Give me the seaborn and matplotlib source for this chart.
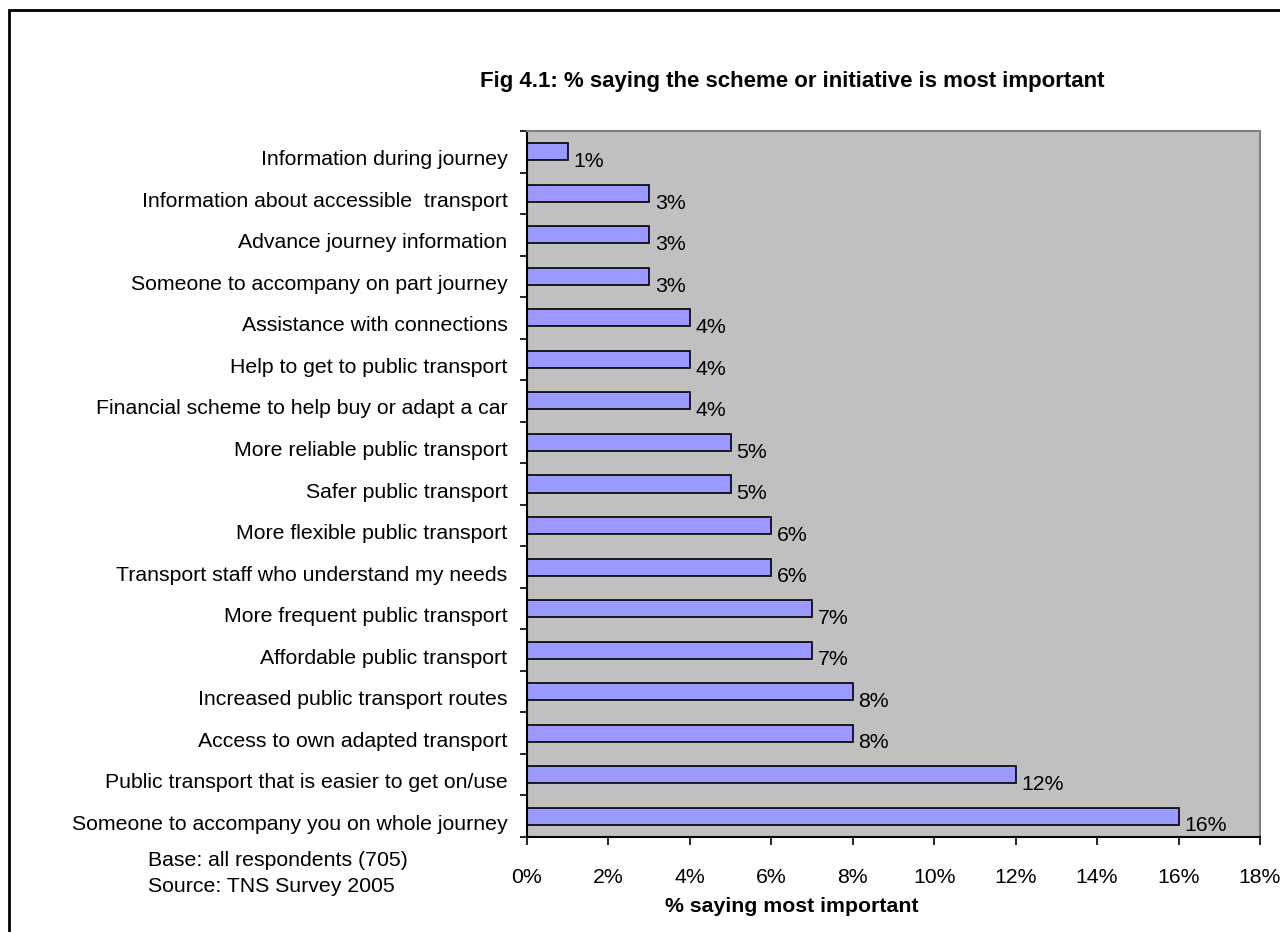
import matplotlib
matplotlib.use("Agg")
import matplotlib.pyplot as plt
import matplotlib.transforms as mtransforms
import seaborn as sns
import pandas as pd
from matplotlib.patches import Rectangle
from matplotlib.ticker import FixedLocator

categories = [
    "Information during journey",
    "Information about accessible  transport",
    "Advance journey information",
    "Someone to accompany on part journey",
    "Assistance with connections",
    "Help to get to public transport",
    "Financial scheme to help buy or adapt a car",
    "More reliable public transport",
    "Safer public transport",
    "More flexible public transport",
    "Transport staff who understand my needs",
    "More frequent public transport",
    "Affordable public transport",
    "Increased public transport routes",
    "Access to own adapted transport",
    "Public transport that is easier to get on/use",
    "Someone to accompany you on whole journey",
]
values = [1, 3, 3, 3, 4, 4, 4, 5, 5, 6, 6, 7, 7, 8, 8, 12, 16]
x_ticks = [0, 2, 4, 6, 8, 10, 12, 14, 16, 18]
x_tick_labels = ["0%", "2%", "4%", "6%", "8%", "10%", "12%", "14%", "16%", "18%"]

sns.set_theme(style="white")
plt.rcParams["font.family"] = ["Liberation Sans", "DejaVu Sans"]

FS = 15.3

df = pd.DataFrame({"item": categories, "pct": values})

fig = plt.figure(figsize=(12.8, 9.32), dpi=100)
W, H = 1280, 932
ax = fig.add_axes([527 / W, 1 - 837 / H, (1260 - 527) / W, (837 - 131) / H])
ax.set_facecolor("#C0C0C0")

sns.barplot(data=df, x="pct", y="item", orient="h", order=categories,
            color="#9999FF", edgecolor="black", linewidth=1.2, width=0.41,
            saturation=1, ax=ax)

ax.set_xlim(0, 18)
ax.set_ylim(len(categories) - 0.5, -0.5)
ax.set_xticks(x_ticks)
ax.set_xticklabels(x_tick_labels, fontsize=FS)
ax.tick_params(axis="x", direction="out", length=6, width=1.2, color="black",
               pad=16, bottom=True)
ax.tick_params(axis="y", which="major", length=0, pad=14, labelsize=FS)
ax.yaxis.set_minor_locator(FixedLocator([i - 0.5 for i in range(len(categories) + 1)]))
ax.tick_params(axis="y", which="minor", direction="out", length=5, width=1.2,
               color="black", left=True)
ax.set_xlabel("")
ax.set_ylabel("")
shift = mtransforms.ScaledTranslation(0, -6 / 100, fig.dpi_scale_trans)
for lbl in ax.get_yticklabels():
    lbl.set_color("black")
    lbl.set_transform(lbl.get_transform() + shift)
for lbl in ax.get_xticklabels():
    lbl.set_color("black")

for s in ["left", "bottom"]:
    ax.spines[s].set_color("black")
    ax.spines[s].set_linewidth(1.5)
for s in ["top", "right"]:
    ax.spines[s].set_color("#808080")
    ax.spines[s].set_linewidth(1.5)

for i, v in enumerate(values):
    ax.annotate(f"{v}%", xy=(v, i), xytext=(4, -7), textcoords="offset points",
                ha="left", va="center", fontsize=FS, color="black")

fig.text(792 / W, 1 - 82 / H, "Fig 4.1: % saying the scheme or initiative is most important",
         ha="center", va="center", fontsize=16, fontweight="bold", color="black")
fig.text(792 / W, 1 - 907 / H, "% saying most important",
         ha="center", va="center", fontsize=FS, fontweight="bold", color="black")
fig.text(148 / W, 1 - 861 / H, "Base: all respondents (705)",
         ha="left", va="center", fontsize=FS, color="black")
fig.text(148 / W, 1 - 887 / H, "Source: TNS Survey 2005",
         ha="left", va="center", fontsize=FS, color="black")

border = Rectangle((9 / W, -0.05), 1.1, 1 - 10 / H + 0.05, transform=fig.transFigure,
                   fill=False, edgecolor="black", linewidth=2, clip_on=False)
fig.patches.append(border)

fig.savefig("out.png", dpi=100, facecolor="white")
